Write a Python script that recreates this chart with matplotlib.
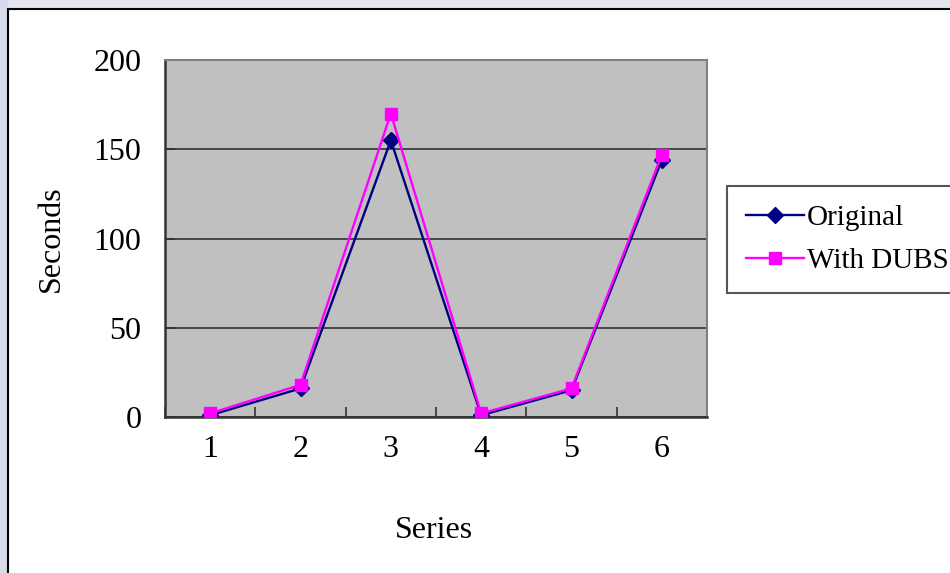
import matplotlib
matplotlib.use("Agg")
import matplotlib.pyplot as plt
from matplotlib.patches import Rectangle

categories = [1, 2, 3, 4, 5, 6]
original = [1, 16, 155, 1, 15, 144]
with_dubs = [2, 18, 170, 2, 16, 147]
y_ticks = [0, 50, 100, 150, 200]

plt.rcParams['font.family'] = ['Liberation Serif', 'DejaVu Serif']

fig = plt.figure(figsize=(9.5, 5.73), dpi=100)
fig.patch.set_facecolor('white')

# slide background strips (top and left)
fig.add_artist(Rectangle((0, 1 - 9/573), 1, 9/573, transform=fig.transFigure,
                         facecolor='#e2e4f0', edgecolor='none', zorder=0))
fig.add_artist(Rectangle((0, 0), 8/950, 1, transform=fig.transFigure,
                         facecolor='#d8dbeb', edgecolor='none', zorder=0))
# chart border
fig.add_artist(Rectangle((8/950, -0.05), 1.2, 1 - 9/573 + 0.05, transform=fig.transFigure,
                         facecolor='white', edgecolor='black', linewidth=1.5, zorder=1))

ax = fig.add_axes([165/950, 1 - 417/573, (707 - 165)/950, (417 - 60)/573])
ax.set_zorder(2)
ax.set_facecolor('#c0c0c0')

ax.plot(categories, original, color='#000080', marker='D', markersize=8,
        linewidth=1.7, label='Original', zorder=3)
ax.plot(categories, with_dubs, color='#ff00ff', marker='s', markersize=8.5,
        linewidth=1.7, label='With DUBS', zorder=4)

ax.set_xlim(0.5, 6.5)
ax.set_ylim(0, 200)
ax.set_yticks(y_ticks)
ax.set_xticks(categories)
ax.set_xticks([c - 0.5 for c in categories] + [6.5], minor=True)
ax.tick_params(axis='x', which='major', length=0, labelsize=23, pad=13, colors='black')
ax.tick_params(axis='x', which='minor', direction='in', length=7, width=1.2, color='#333333')
ax.tick_params(axis='y', which='major', direction='in', length=7, width=1.2,
               labelsize=23, pad=17, color='#333333')
ax.yaxis.grid(True, color='#333333', linewidth=1.2)
ax.set_axisbelow(True)

for s in ['top', 'right']:
    ax.spines[s].set_color('#808080')
    ax.spines[s].set_linewidth(1.5)
for s in ['left', 'bottom']:
    ax.spines[s].set_color('#333333')
    ax.spines[s].set_linewidth(1.8)

ax.set_xlabel('Series', fontsize=23)
ax.set_ylabel('Seconds', fontsize=23)
ax.xaxis.set_label_coords(0.496, -(516 - 417) / 357)
ax.yaxis.set_label_coords(-(165 - 66) / 542, 0.5)

leg = fig.legend(loc='upper left', bbox_to_anchor=(727/950, 1 - 186/573),
                 fontsize=21, frameon=True, fancybox=False, framealpha=1,
                 edgecolor='#555555', borderpad=0.65, handlelength=2.0,
                 handletextpad=0.1, labelspacing=0.55, borderaxespad=0)
leg.get_frame().set_linewidth(1.5)
leg.set_zorder(5)

fig.savefig('out.png', dpi=100)
